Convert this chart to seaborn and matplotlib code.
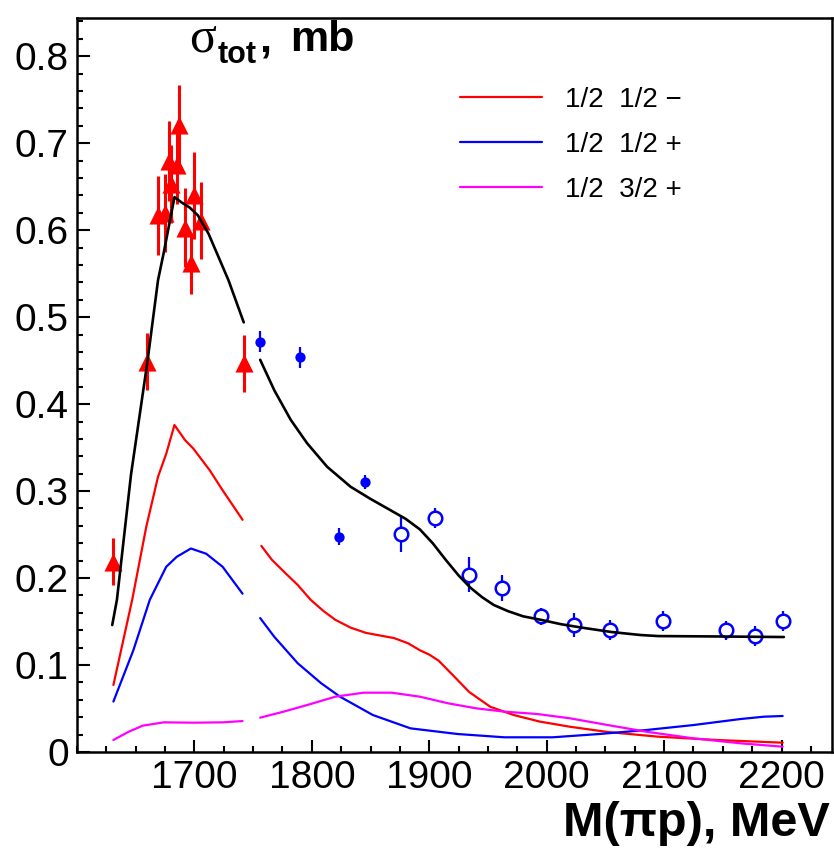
"""Total cross section vs M(pi p) with partial-wave contributions."""

import matplotlib
matplotlib.use("Agg")
import matplotlib.pyplot as plt
from matplotlib import font_manager
from matplotlib.lines import Line2D
from matplotlib.ticker import MultipleLocator, FixedLocator, FixedFormatter
import seaborn as sns

# --- data points -----------------------------------------------------------
tri_x = [1631, 1660, 1669, 1675, 1678, 1680, 1685, 1687, 1692, 1697, 1700, 1706, 1742]
tri_y = [0.219, 0.449, 0.617, 0.620, 0.679, 0.653, 0.675, 0.721, 0.603, 0.562, 0.640, 0.611, 0.447]
tri_err = [0.027, 0.033, 0.045, 0.045, 0.046, 0.045, 0.045, 0.046, 0.045, 0.035, 0.050, 0.044, 0.033]

fill_x = [1756, 1790, 1823, 1845]
fill_y = [0.472, 0.454, 0.2475, 0.310]
fill_err = [0.012, 0.012, 0.010, 0.008]

open_x = [1876, 1905, 1934, 1962, 1995, 2023, 2054, 2099, 2153, 2177, 2201]
open_y = [0.251, 0.269, 0.204, 0.189, 0.156, 0.146, 0.140, 0.151, 0.140, 0.133, 0.151]
open_err = [0.021, 0.011, 0.0205, 0.015, 0.010, 0.014, 0.0115, 0.0115, 0.011, 0.0115, 0.0115]

# --- curves (two segments each, gap between 1742 and 1756) -----------------
tot_x1 = [1630, 1634, 1646, 1660, 1669, 1674, 1683, 1689, 1696, 1703, 1712, 1729, 1742]
tot_y1 = [0.146, 0.175, 0.319, 0.449, 0.5425, 0.575, 0.638, 0.632, 0.626, 0.617, 0.596, 0.5425, 0.494]
tot_x2 = [1756, 1768, 1782, 1796, 1813, 1833, 1850, 1867, 1880, 1892, 1903, 1914, 1925,
          1935, 1945, 1955, 1967, 1980, 1995, 2012, 2030, 2055, 2080, 2095, 2150, 2202]
tot_y2 = [0.451, 0.416, 0.382, 0.355, 0.328, 0.305, 0.291, 0.278, 0.268, 0.256, 0.240, 0.221,
          0.203, 0.189, 0.178, 0.169, 0.162, 0.156, 0.152, 0.147, 0.143, 0.138, 0.1345,
          0.1333, 0.1328, 0.1322]

red_x1 = [1631, 1647, 1659, 1669, 1676, 1683, 1692, 1699, 1713, 1724, 1741]
red_y1 = [0.077, 0.175, 0.259, 0.3165, 0.343, 0.376, 0.3586, 0.349, 0.324, 0.301, 0.267]
red_x2 = [1757, 1766, 1778, 1788, 1799, 1810, 1820, 1833, 1846, 1858, 1870, 1882, 1892,
          1900, 1908, 1920, 1934, 1952, 1972, 1994, 2020, 2052, 2095, 2145, 2201]
red_y2 = [0.237, 0.221, 0.205, 0.192, 0.175, 0.162, 0.152, 0.143, 0.137, 0.134, 0.131, 0.125,
          0.117, 0.112, 0.105, 0.0885, 0.069, 0.052, 0.0425, 0.035, 0.029, 0.023, 0.0176,
          0.0138, 0.0107]

blue_x1 = [1631, 1648, 1662, 1676, 1685, 1697, 1710, 1724, 1741]
blue_y1 = [0.058, 0.117, 0.175, 0.213, 0.2245, 0.234, 0.228, 0.213, 0.182]
blue_x2 = [1756, 1768, 1788, 1808, 1824, 1852, 1884, 1924, 1964, 2005, 2045, 2085, 2125,
           2165, 2185, 2201]
blue_y2 = [0.154, 0.1325, 0.102, 0.079, 0.0636, 0.0425, 0.0272, 0.0207, 0.0169, 0.0169,
           0.0207, 0.0253, 0.031, 0.0379, 0.0406, 0.0414]

mag_x1 = [1631, 1644, 1656, 1674, 1700, 1724, 1741]
mag_y1 = [0.0138, 0.0233, 0.0303, 0.0341, 0.0337, 0.0341, 0.0356]
mag_x2 = [1756, 1776, 1796, 1820, 1844, 1868, 1892, 1916, 1940, 1964, 1992, 2020, 2052,
          2085, 2125, 2165, 2201]
mag_y2 = [0.0395, 0.0464, 0.054, 0.0636, 0.0682, 0.0682, 0.0636, 0.056, 0.0502, 0.0464,
          0.0437, 0.0387, 0.031, 0.0233, 0.0157, 0.010, 0.0061]

legend_labels = ["1/2  1/2 \u2212", "1/2  1/2 +", "1/2  3/2 +"]
y_ticks = [0, 0.1, 0.2, 0.3, 0.4, 0.5, 0.6, 0.7, 0.8]
y_tick_labels = ["0", "0.1", "0.2", "0.3", "0.4", "0.5", "0.6", "0.7", "0.8"]
x_ticks = [1700, 1800, 1900, 2000, 2100, 2200]
x_tick_labels = ["1700", "1800", "1900", "2000", "2100", "2200"]

RED, BLUE, MAG = "#ff0000", "#0000ff", "#ff00ff"


def main() -> None:
    sns.set_style("ticks")
    names = {f.name for f in font_manager.fontManager.ttflist}
    narrow = "Liberation Sans Narrow" if "Liberation Sans Narrow" in names else "Liberation Sans"
    plt.rcParams["font.family"] = ["Liberation Sans", "DejaVu Sans"]
    plt.rcParams["text.color"] = "black"
    plt.rcParams["xtick.color"] = "black"
    plt.rcParams["ytick.color"] = "black"

    W, H = 834, 849
    fig = plt.figure(figsize=(W / 100, H / 100), dpi=100)
    ax = fig.add_axes([77 / W, 1 - 752 / H, (832 - 77) / W, (752 - 18) / H])

    # error bars, then markers, then curves on top
    ax.errorbar(tri_x, tri_y, yerr=tri_err, fmt="none", ecolor=RED, elinewidth=2.2, zorder=2)
    ax.errorbar(fill_x, fill_y, yerr=fill_err, fmt="none", ecolor=BLUE, elinewidth=1.6, zorder=2)
    ax.errorbar(open_x, open_y, yerr=open_err, fmt="none", ecolor=BLUE, elinewidth=1.6, zorder=2)

    sns.scatterplot(x=tri_x, y=tri_y, marker="^", s=170, color=RED, edgecolor=RED,
                    linewidth=0, ax=ax, zorder=3)
    sns.scatterplot(x=fill_x, y=fill_y, marker="o", s=55, color=BLUE, edgecolor=BLUE,
                    linewidth=0, ax=ax, zorder=3)
    sns.scatterplot(x=open_x, y=open_y, marker="o", s=95, facecolor="white", edgecolor=BLUE,
                    linewidth=1.8, ax=ax, zorder=3)

    segments = [
        (red_x1, red_y1, RED, 1.6), (red_x2, red_y2, RED, 1.6),
        (blue_x1, blue_y1, BLUE, 1.6), (blue_x2, blue_y2, BLUE, 1.6),
        (mag_x1, mag_y1, MAG, 1.6), (mag_x2, mag_y2, MAG, 1.6),
        (tot_x1, tot_y1, "black", 1.9), (tot_x2, tot_y2, "black", 1.9),
    ]
    for xs, ys, col, lw in segments:
        sns.lineplot(x=xs, y=ys, color=col, lw=lw, sort=False, estimator=None, ax=ax, zorder=4)

    ax.set_xlim(1600, 2243)
    ax.set_ylim(0, 0.844)

    ax.yaxis.set_major_locator(FixedLocator(y_ticks))
    ax.yaxis.set_major_formatter(FixedFormatter(y_tick_labels))
    ax.yaxis.set_minor_locator(MultipleLocator(0.02))
    ax.xaxis.set_major_locator(FixedLocator(x_ticks))
    ax.xaxis.set_major_formatter(FixedFormatter(x_tick_labels))
    ax.xaxis.set_minor_locator(MultipleLocator(25))
    ax.tick_params(which="both", direction="in", top=False, right=False, width=1.5,
                   color="black", labelcolor="black")
    ax.tick_params(which="major", length=9, pad=6)
    ax.tick_params(which="minor", length=4.5)
    for lab in ax.get_xticklabels() + ax.get_yticklabels():
        lab.set_fontfamily(narrow)
        lab.set_fontsize(28)
    for sp in ax.spines.values():
        sp.set_linewidth(1.8)
        sp.set_color("black")

    # axis titles in the ROOT style
    fig.text(830 / W, 1 - 836 / H, "M(\u03c0p), MeV", ha="right", va="baseline",
             fontsize=35, fontweight="bold", fontfamily=narrow)
    fig.text(189 / W, 1 - 52 / H, "\u03c3", ha="left", va="baseline", fontsize=36,
             fontfamily="Liberation Serif")
    fig.text(218 / W, 1 - 63 / H, "tot", ha="left", va="baseline", fontsize=22,
             fontweight="bold")
    fig.text(259 / W, 1 - 52 / H, ",", ha="left", va="baseline", fontsize=31,
             fontweight="bold")
    fig.text(290 / W, 1 - 51 / H, "mb", ha="left", va="baseline", fontsize=31,
             fontweight="bold")

    handles = [Line2D([], [], color=c, lw=1.6) for c in (RED, BLUE, MAG)]
    ax.legend(handles, legend_labels, loc="upper left",
              bbox_to_anchor=(460 / W, 1 - 87 / H), bbox_transform=fig.transFigure,
              frameon=False, fontsize=20, handlelength=2.95, handletextpad=0.83,
              labelspacing=0.68, borderpad=0, borderaxespad=0)

    fig.savefig("out.png", dpi=100)


if __name__ == "__main__":
    main()
